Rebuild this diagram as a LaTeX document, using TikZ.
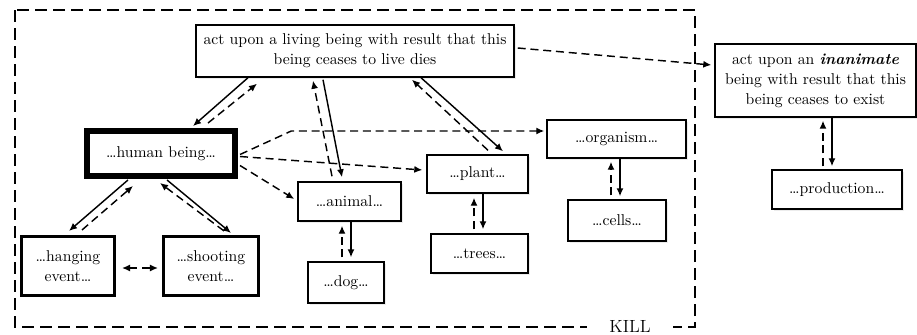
\documentclass[tikz,border=0pt]{standalone}
\usepackage{fontspec}
\usetikzlibrary{calc,arrows.meta,shadows}

\begin{document}
\begin{tikzpicture}[x=0.625pt,y=-0.625pt,
    box/.style={draw, line width=0.9pt, fill=white, inner sep=1pt, align=center,
        font=\fontsize{9.8}{12.5}\selectfont,
        drop shadow={opacity=0.15, shadow xshift=1.2pt, shadow yshift=-1.2pt}},
    eventbox/.style={box, line width=1.9pt},
    heavybox/.style={box, line width=3.75pt},
    solidarr/.style={-{Latex[length=5pt,width=4.4pt]}, line width=0.9pt},
    dasharr/.style={solidarr, dash pattern=on 5pt off 3pt}]
    \useasboundingbox (0,0) rectangle (917,334);

    % KILL frame
    \draw[line width=1.25pt, dash pattern=on 7.5pt off 3.75pt] (15,10) rectangle (695,327);
    \node[fill=white, minimum width=54pt, inner sep=0pt, font=\fontsize{11}{13}\selectfont] (kill) at (630,326) {KILL};

    \node[box, minimum width=198.75pt, minimum height=32.5pt] (top) at (355,51)
        {act upon a living being with result that this\\being ceases to live dies};
    \node[box, minimum width=125.6pt, minimum height=45.6pt] (inanim) at (815.5,80.5)
        {act upon an \textbf{\textit{inanimate}}\\being with result that this\\being ceases to exist};
    \node[box, minimum width=81.25pt, minimum height=24.4pt] (prod) at (837,189.5) {…production…};
    \node[heavybox, minimum width=92.5pt, minimum height=28.1pt] (human) at (161,153.5) {…human being…};
    \node[eventbox, minimum width=58.1pt, minimum height=36.9pt] (hang) at (68,266) {…hanging\\event…};
    \node[eventbox, minimum width=59.4pt, minimum height=36.9pt] (shoot) at (211,266) {…shooting\\event…};
    \node[box, minimum width=64.4pt, minimum height=24.4pt] (animal) at (349.5,201.5) {…animal…};
    \node[box, minimum width=47.5pt, minimum height=25.6pt] (dog) at (346,282.5) {…dog…};
    \node[box, minimum width=63.1pt, minimum height=23.75pt] (plant) at (477.5,174) {…plant…};
    \node[box, minimum width=60.6pt, minimum height=24.4pt] (trees) at (479.5,253.5) {…trees…};
    \node[box, minimum width=86.9pt, minimum height=23.75pt] (organism) at (616.5,139) {…organism…};
    \node[box, minimum width=61.25pt, minimum height=25.6pt] (cells) at (617,220.5) {…cells…};

    % top level
    \draw[solidarr] ($(top.south)+(-107,0)$) -- ($(human.north)+(32,-2)$);
    \draw[dasharr] ($(human.north)+(47,-5)$) -- ($(top.south)+(-98,6)$);
    \draw[solidarr] ($(top.south)+(-32,2)$) -- ($(animal.north)+(-7.5,-4)$);
    \draw[dasharr] ($(animal.north)+(-17.5,-5)$) -- ($(top.south)+(-42,3)$);
    \draw[solidarr] ($(top.south)+(66,0)$) -- ($(plant.north)+(25.5,-3)$);
    \draw[dasharr] ($(plant.north)+(10.5,-4)$) -- ($(top.south)+(57,2)$);
    \draw[dasharr] ($(top.east)+(3,-3)$) -- ($(inanim.west)+(-3,-15.5)$);
    \draw[dasharr] ($(prod.north)+(-14,-3)$) -- ($(inanim.south)+(7.5,3)$);
    \draw[solidarr] ($(inanim.south)+(16.5,0)$) -- ($(prod.north)+(-5,-3)$);

    % human being
    \draw[dasharr] ($(human.east)+(2,1)$) -- ($(organism.west)+(-255,-8)$) -- ($(organism.west)+(-2,-8)$);
    \draw[dasharr] ($(human.east)+(2,3)$) -- ($(plant.west)+(-4,-4)$);
    \draw[dasharr] ($(human.east)+(2,12)$) -- ($(animal.west)+(-3,-2.5)$);
    \draw[solidarr] ($(human.south)+(-33,1)$) -- ($(hang.north)+(1,-4)$);
    \draw[dasharr] ($(hang.north)+(14,-5)$) -- ($(human.south)+(-28,7)$);
    \draw[dasharr] ($(shoot.north)+(13,-4)$) -- ($(human.south)+(-1,4)$);
    \draw[solidarr] ($(human.south)+(6,1)$) -- ($(shoot.north)+(20,-2)$);
    \draw[dasharr, {Latex[length=5pt,width=4.4pt]}-{Latex[length=5pt,width=4.4pt]}]
        ($(hang.east)+(6,2)$) -- ($(shoot.west)+(-4,2)$);

    % lower level
    \draw[dasharr] ($(dog.north)+(-4,-4)$) -- ($(animal.south)+(-7.5,4)$);
    \draw[solidarr] ($(animal.south)+(1.5,0)$) -- ($(dog.north)+(5,-4)$);
    \draw[dasharr] ($(trees.north)+(-5.5,-4)$) -- ($(plant.south)+(-3.5,4)$);
    \draw[solidarr] ($(plant.south)+(5.5,0)$) -- ($(trees.north)+(3.5,-4)$);
    \draw[dasharr] ($(cells.north)+(-6,-4)$) -- ($(organism.south)+(-5.5,3)$);
    \draw[solidarr] ($(organism.south)+(3.5,0)$) -- ($(cells.north)+(3,-3)$);
\end{tikzpicture}
\end{document}
